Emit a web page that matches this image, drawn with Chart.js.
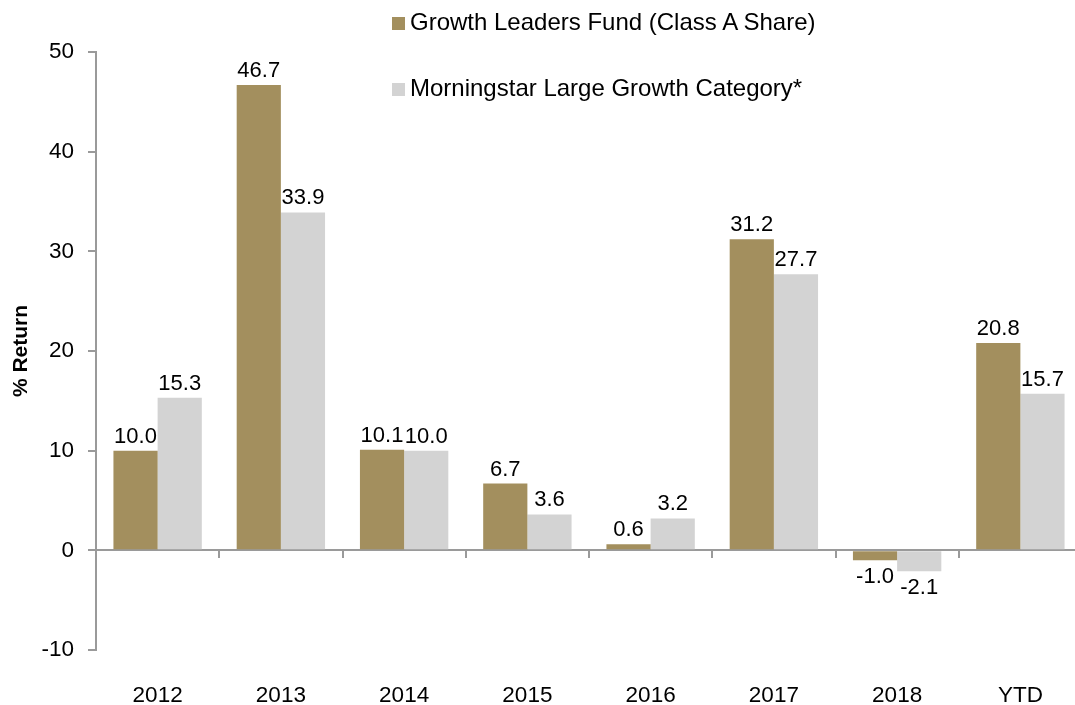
<!DOCTYPE html>
<html>
<head>
<meta charset="utf-8">
<script src="https://cdn.jsdelivr.net/npm/chart.js@4.4.1/dist/chart.umd.min.js"></script>
<style>
  html, body { margin: 0; padding: 0; background: #ffffff; overflow: hidden; width: 1075px; height: 705px; }
  #wrap { position: relative; width: 1075px; height: 705px; overflow: hidden; }
  canvas { position: absolute; left: 0; top: 0; }
  .lg { position: absolute; font-family: 'Liberation Sans', Arial, sans-serif; font-size: 24px; color: #000; white-space: nowrap; line-height: 28px; }
  .sw { display: inline-block; width: 13px; height: 13px; margin-right: 5px; vertical-align: 0px; }
</style>
</head>
<body>
<div id="wrap">
  <canvas id="c" width="1090" height="705"></canvas>
  <div class="lg" id="lg1" style="left:392px; top:8px;"><span class="sw" style="background:#A38F5E"></span><span id="t1"></span></div>
  <div class="lg" id="lg2" style="left:392px; top:74px;"><span class="sw" style="background:#D3D3D3"></span><span id="t2"></span></div>
</div>
<script>
const categories = ['2012', '2013', '2014', '2015', '2016', '2017', '2018', 'YTD'];
const seriesNames = ['Growth Leaders Fund (Class A Share)', 'Morningstar Large Growth Category*'];
const fundValues = [10.0, 46.7, 10.1, 6.7, 0.6, 31.2, -1.0, 20.8];
const categoryValues = [15.3, 33.9, 10.0, 3.6, 3.2, 27.7, -2.1, 15.7];
const yTicks = [-10, 0, 10, 20, 30, 40, 50];

document.getElementById('t1').textContent = seriesNames[0];
document.getElementById('t2').textContent = seriesNames[1];

const FONT = "'Liberation Sans', Arial, sans-serif";
const AXIS = '#9a9a9a';

const labelPlugin = {
  id: 'valueLabels',
  afterDatasetsDraw(chart) {
    const ctx = chart.ctx;
    ctx.save();
    ctx.font = '22px ' + FONT;
    ctx.fillStyle = '#000';
    ctx.textAlign = 'center';
    chart.data.datasets.forEach((ds, i) => {
      const meta = chart.getDatasetMeta(i);
      meta.data.forEach((bar, j) => {
        const v = ds.data[j];
        const txt = v.toFixed(1);
        if (v >= 0) {
          ctx.textBaseline = 'alphabetic';
          ctx.fillText(txt, bar.x, bar.y - 8);
        } else {
          ctx.textBaseline = 'top';
          ctx.fillText(txt, bar.x, bar.y + 6);
        }
      });
    });
    ctx.restore();
  }
};

new Chart(document.getElementById('c'), {
  type: 'bar',
  data: {
    labels: categories,
    datasets: [
      { label: seriesNames[0], data: fundValues, backgroundColor: '#A38F5E', borderWidth: 0, xAxisID: 'x', yAxisID: 'y' },
      { label: seriesNames[1], data: categoryValues, backgroundColor: '#D3D3D3', borderWidth: 0, xAxisID: 'x', yAxisID: 'y' }
    ]
  },
  options: {
    responsive: false,
    animation: false,
    devicePixelRatio: 1,
    layout: { padding: { top: 52, left: 0, right: 8, bottom: 0 } },
    plugins: { legend: { display: false }, tooltip: { enabled: false } },
    datasets: { bar: { categoryPercentage: 0.717, barPercentage: 1.0 } },
    scales: {
      x: {
        type: 'category',
        position: 'bottom',
        offset: true,
        grid: { display: false },
        border: { display: false },
        ticks: { color: '#000', font: { family: FONT, size: 22.5 }, padding: 24, maxRotation: 0, autoSkip: false },
        afterFit(scale) { scale.height = 55; }
      },
      x2: {
        type: 'category',
        labels: categories,
        position: { y: 0 },
        offset: true,
        grid: { display: true, offset: true, drawOnChartArea: false, drawTicks: true, tickLength: 7, color: AXIS, lineWidth: 2 },
        border: { display: true, color: AXIS, width: 2 },
        ticks: { display: false }
      },
      y: {
        type: 'linear',
        min: -10,
        max: 50,
        afterBuildTicks(scale) { scale.ticks = yTicks.map(v => ({ value: v })); },
        grid: { display: true, drawOnChartArea: false, drawTicks: true, tickLength: 8, color: AXIS, lineWidth: 2 },
        border: { display: true, color: AXIS, width: 2 },
        ticks: { color: '#000', font: { family: FONT, size: 22.5 }, padding: 14 },
        title: { display: true, text: '% Return', color: '#000', font: { family: FONT, size: 21, weight: 'bold' }, padding: { top: 9, bottom: 0 } },
        afterFit(scale) { scale.width = 96; }
      }
    }
  },
  plugins: [labelPlugin]
});
</script>
</body>
</html>
